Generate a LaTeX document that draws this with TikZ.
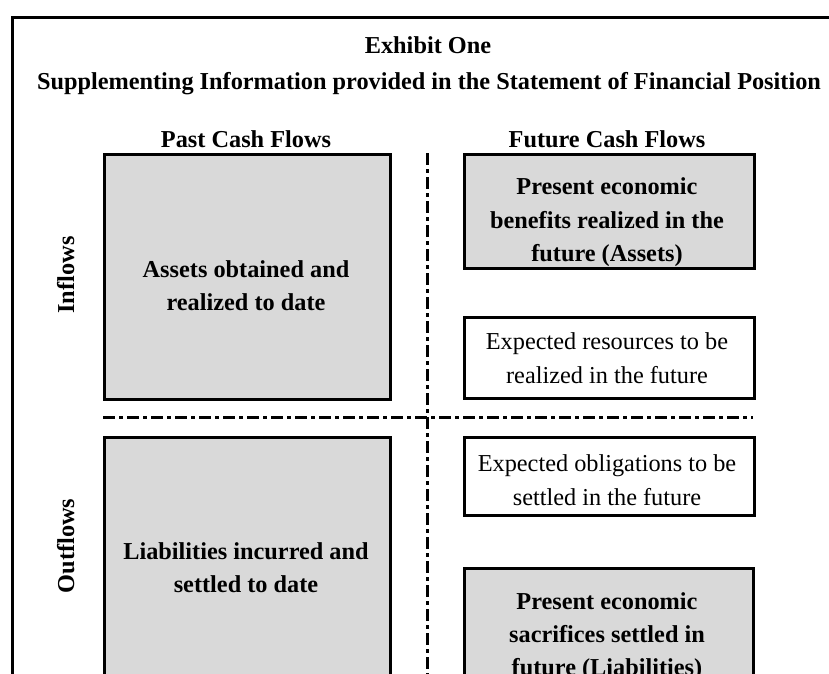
\documentclass[tikz,border=0pt]{standalone}
\usepackage{fontspec}
\setmainfont{Liberation Serif}
\definecolor{boxgray}{RGB}{217,217,217}
\begin{document}
\begin{tikzpicture}[x=1pt,y=-1pt,
  frame/.style={draw=black, line width=2.5pt, inner sep=0pt, anchor=north west},
  graybox/.style={draw=black, line width=2.5pt, fill=boxgray, inner sep=0pt, anchor=north west},
  whitebox/.style={draw=black, line width=2.5pt, fill=white, inner sep=0pt, anchor=north west},
  txt/.style={font=\fontsize{24.3}{33.5}\selectfont, anchor=base, inner sep=0pt},
  btxt/.style={font=\fontsize{24.3}{33.5}\selectfont\bfseries, anchor=base, inner sep=0pt},
  divider/.style={line width=3pt, dash pattern=on 12pt off 4pt on 4pt off 4pt}
]
\useasboundingbox (0,0) rectangle (829,673);
\clip (0,0) rectangle (829,673);
\fill[white] (0,0) rectangle (829,673);

% outer frame (extends beyond the visible area)
\node[frame, minimum width=850pt, minimum height=720pt] (outer) at (11,16) {};

% titles
\node[btxt] (t1) at (428,53) {Exhibit One};
\node[btxt] (t2) at (429,89) {Supplementing Information provided in the Statement of Financial Position};
\node[btxt] (past) at (246,147) {Past Cash Flows};
\node[btxt] (future) at (607,147) {Future Cash Flows};

% dividers
\coordinate (vtop) at (427,153);
\coordinate (vbot) at (427,700);
\coordinate (hl) at (103,417);
\coordinate (hr) at (753,417);
\draw[divider] (vtop) -- (vbot);
\draw[divider] (hl) -- (hr);

% boxes
\node[graybox, minimum width=286pt, minimum height=245pt] (l1) at (103,153) {};
\node[graybox, minimum width=286pt, minimum height=300pt] (l2) at (103,436) {};
\node[graybox, minimum width=290pt, minimum height=114pt] (r1) at (463,153) {};
\node[whitebox, minimum width=290pt, minimum height=81pt] (r2) at (463,316) {};
\node[whitebox, minimum width=290pt, minimum height=78pt] (r3) at (463,436) {};
\node[graybox, minimum width=289pt, minimum height=150pt] (r4) at (463,567) {};

% side labels
\node[btxt, rotate=90] (inflows) at (74,275) {Inflows};
\node[btxt, rotate=90] (outflows) at (74,546) {Outflows};

% left box texts
\node[btxt] (l1a) at (246,277) {Assets obtained and};
\node[btxt] (l1b) at (246,310) {realized to date};
\node[btxt] (l2a) at (246,559) {Liabilities incurred and};
\node[btxt] (l2b) at (246,592) {settled to date};

% right box texts
\node[btxt] (r1a) at (607,194) {Present economic};
\node[btxt] (r1b) at (607,228) {benefits realized in the};
\node[btxt] (r1c) at (607,261) {future (Assets)};
\node[txt] (r2a) at (607,349) {Expected resources to be};
\node[txt] (r2b) at (607,383) {realized in the future};
\node[txt] (r3a) at (607,471) {Expected obligations to be};
\node[txt] (r3b) at (607,505) {settled in the future};
\node[btxt] (r4a) at (607,609) {Present economic};
\node[btxt] (r4b) at (607,642) {sacrifices settled in};
\node[btxt] (r4c) at (607,675) {future (Liabilities)};
\end{tikzpicture}
\end{document}
